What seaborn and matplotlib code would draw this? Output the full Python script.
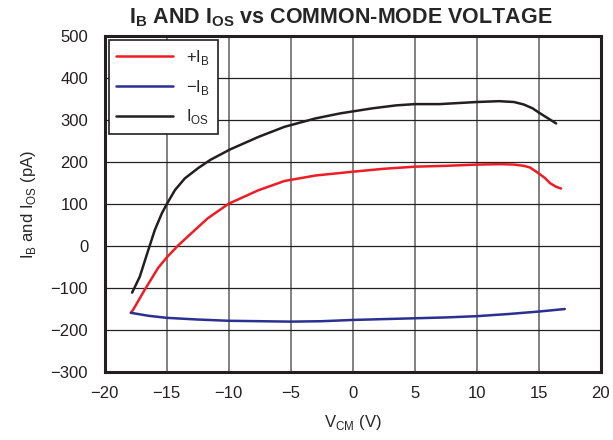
import matplotlib
matplotlib.use("Agg")
import matplotlib.pyplot as plt
import seaborn as sns

vcm_pos = [-17.9, -17.7, -16.8, -15.7, -15.0, -14.1, -13.0, -11.7, -10.0, -7.6, -5.5, -3.0,
           -1.0, 0.0, 2.5, 5.0, 7.5, 10.0, 12.0, 13.0, 13.8, 14.3, 15.0, 15.5, 15.9, 16.4, 16.8]
ib_pos = [-159, -151, -105, -52, -27, 1, 31, 66, 101, 133, 155, 168,
          174, 177, 184, 189, 191, 194, 195, 194, 191, 187, 173, 162, 150, 141, 137]

vcm_neg = [-17.9, -16.5, -15.0, -12.5, -10.0, -7.5, -5.0, -2.5, 0.0, 2.5, 5.0, 7.5, 10.0,
           12.5, 15.0, 17.1]
ib_neg = [-159, -166, -171, -175, -178, -179, -180, -179, -176, -174, -172, -170, -167,
          -162, -156, -150]

vcm_os = [-17.8, -17.18, -16.5, -15.97, -15.4, -15.0, -14.35, -13.55, -12.5, -11.5, -9.9,
          -7.6, -5.5, -3.0, -1.0, 1.6, 3.5, 5.0, 7.0, 10.0, 11.8, 13.0, 13.8, 14.5, 15.0,
          15.7, 16.4]
ios = [-111, -73, -10, 38, 78, 100, 133, 161, 185, 205, 230,
       260, 284, 304, 316, 328, 335, 338, 338, 343, 345, 343, 337, 328, 318,
       305, 292]

x_ticks = [-20, -15, -10, -5, 0, 5, 10, 15, 20]
y_ticks = [-300, -200, -100, 0, 100, 200, 300, 400, 500]

sns.set_theme(style="white")
plt.rcParams["font.family"] = ["Liberation Sans", "DejaVu Sans"]
plt.rcParams["mathtext.fontset"] = "custom"
plt.rcParams["mathtext.rm"] = "Liberation Sans"
plt.rcParams["mathtext.bf"] = "Liberation Sans:bold"
plt.rcParams["lines.solid_capstyle"] = "round"

fig = plt.figure(figsize=(6.13, 4.40), dpi=100)
ax = fig.add_axes([0.171, 0.1545, 0.809, 0.7635])

for x in x_ticks:
    ax.axvline(x, color="#808080", lw=1.4, zorder=0)
for y in y_ticks:
    ax.axhline(y, color="#222222", lw=0.9, zorder=0)

sns.lineplot(x=vcm_pos, y=ib_pos, ax=ax, color="#ee1c25", lw=1.8,
             label="+I$_\\mathregular{B}$")
sns.lineplot(x=vcm_neg, y=ib_neg, ax=ax, color="#2b3090", lw=1.8,
             label="\u2212I$_\\mathregular{B}$")
sns.lineplot(x=vcm_os, y=ios, ax=ax, color="#231f20", lw=1.8,
             label="I$_\\mathregular{OS}$")

ax.set_xlim(-20, 20)
ax.set_ylim(-300, 500)
ax.set_xticks(x_ticks)
ax.set_yticks(y_ticks)
ax.tick_params(length=0, labelsize=12, colors="#231f20")
ax.tick_params(axis="y", pad=12)
ax.tick_params(axis="x", pad=10)
for s in ax.spines.values():
    s.set_linewidth(2.2)
    s.set_color("#231f20")

ax.set_xlabel("V$_\\mathregular{CM}$ (V)", fontsize=12, labelpad=9)
ax.set_ylabel("I$_\\mathregular{B}$ and I$_\\mathregular{OS}$ (pA)", fontsize=12, labelpad=9)
ttl = ax.set_title("I$_\\mathbf{B}$ AND I$_\\mathbf{OS}$ vs COMMON-MODE VOLTAGE",
                   fontsize=15.5, fontweight="bold", pad=9)
ttl.set_x(0.475)

leg = ax.legend(loc="upper left", fontsize=12, frameon=True, fancybox=False,
                borderpad=0.45, labelspacing=0.65, handlelength=3.4, handletextpad=0.8,
                borderaxespad=0.25, bbox_to_anchor=(0.0, 1.0))
leg.get_frame().set_edgecolor("#231f20")
leg.get_frame().set_linewidth(1.2)
leg.get_frame().set_alpha(1)

fig.savefig("out.png", dpi=100)
